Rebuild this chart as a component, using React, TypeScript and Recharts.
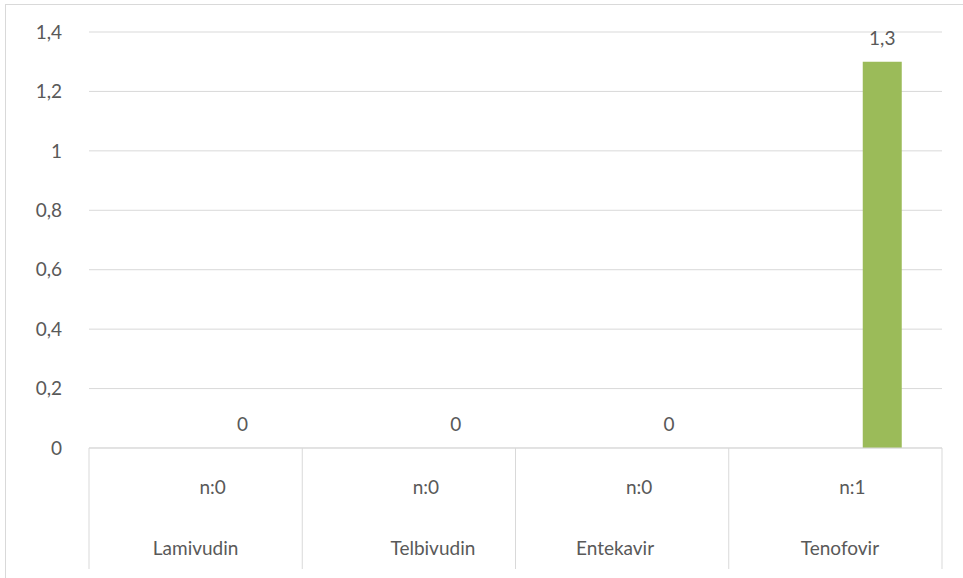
import { Bar, BarChart, CartesianGrid, LabelList, XAxis, YAxis } from "recharts";

const drugs = ["Lamivudin", "          Telbivudin", "Entekavir   ", "  Tenofovir"];
const counts = ["n:0", "n:0", "n:0", "n:1"];
const seriesA: (number | null)[] = [null, null, null, null];
const seriesB: (number | null)[] = [null, null, null, null];
const seriesC = [0, 0, 0, 1.3];
const yTicks = [0, 0.2, 0.4, 0.6, 0.8, 1, 1.2, 1.4];

const TEXT = "#595959";
const LINE = "#d9d9d9";
const FONT = "Lato, 'Open Sans', sans-serif";
const FS = 19;

const rows = drugs.map((name, i) => ({
  name,
  n: counts[i],
  a: seriesA[i],
  b: seriesB[i],
  c: seriesC[i],
}));

const comma = (v: unknown) =>
  v === null || v === undefined ? "" : String(v).replace(".", ",");

function CategoryTick(props: any) {
  const { x, y, payload, index, visibleTicksCount } = props;
  const half = payload?.offset ?? 106.6;
  const row = rows[index];
  const isLast = index === (visibleTicksCount ?? rows.length) - 1;
  return (
    <g>
      <line x1={x - half} y1={y} x2={x - half} y2={y + 121} stroke={LINE} />
      {isLast && <line x1={x + half} y1={y} x2={x + half} y2={y + 121} stroke={LINE} />}
      <text x={x + 17} y={y + 46} textAnchor="middle" fill={TEXT} fontSize={FS} fontFamily={FONT}>
        {row?.n}
      </text>
      <text
        x={x}
        y={y + 107}
        textAnchor="middle"
        fill={TEXT}
        fontSize={FS}
        fontFamily={FONT}
        style={{ whiteSpace: "pre" }}
      >
        {payload.value}
      </text>
    </g>
  );
}

export default function App() {
  return (
    <div style={{ position: "absolute", left: 0, top: 0, width: 963, height: 578, background: "#fff" }}>
      <div
        style={{
          position: "absolute",
          left: 5,
          top: 4,
          width: 958,
          height: 574,
          borderLeft: `1px solid ${LINE}`,
          borderTop: `1px solid ${LINE}`,
        }}
      />
      <BarChart
        width={963}
        height={578}
        data={rows}
        margin={{ top: 32, right: 21, bottom: 0, left: 0 }}
        barSize={39}
        barGap={8}
        style={{ position: "absolute", left: 0, top: 0 }}
      >
        <CartesianGrid vertical={false} stroke={LINE} />
        <XAxis
          dataKey="name"
          height={130}
          interval={0}
          tickSize={0}
          tickMargin={0}
          tickLine={false}
          axisLine={{ stroke: LINE }}
          tick={<CategoryTick />}
        />
        <YAxis
          width={89}
          domain={[0, 1.4]}
          ticks={yTicks}
          interval={0}
          axisLine={false}
          tickLine={false}
          tickSize={0}
          tickMargin={27}
          tickFormatter={comma}
          tick={{ fill: TEXT, fontSize: FS, fontFamily: FONT }}
        />
        <Bar dataKey="a" fill="#4F81BD" isAnimationActive={false} />
        <Bar dataKey="b" fill="#C0504D" isAnimationActive={false} />
        <Bar dataKey="c" fill="#9BBB59" minPointSize={0.01} isAnimationActive={false}>
          <LabelList
            dataKey="c"
            position="top"
            offset={17}
            formatter={comma}
            fill={TEXT}
            fontSize={FS}
            fontFamily={FONT}
          />
        </Bar>
      </BarChart>
    </div>
  );
}
